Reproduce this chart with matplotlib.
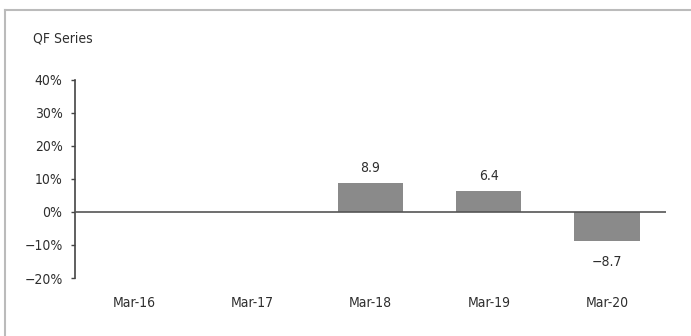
import matplotlib
matplotlib.use("Agg")
import matplotlib.pyplot as plt
from matplotlib.lines import Line2D
import numpy as np

# QF series, yearly change (%)
periods = ["Mar-16", "Mar-17", "Mar-18", "Mar-19", "Mar-20"]
values = [np.nan, np.nan, 8.9, 6.4, -8.7]
value_labels = ["", "", "8.9", "6.4", "\u22128.7"]
y_ticks = [-20, -10, 0, 10, 20, 30, 40]

plt.rcParams["font.family"] = ["DejaVu Sans"]
plt.rcParams["font.stretch"] = "condensed"
txt = "#2e2e2e"
fs = 10

fig = plt.figure(figsize=(6.91, 3.36), dpi=100)
ax = fig.add_axes([0.1085, 0.1726, 0.8555, 0.5894])

x = np.arange(len(periods))
heights = np.nan_to_num(values)
ax.bar(x, heights, width=0.55, color="#8a8a8a", zorder=2)
ax.axhline(0, color="#555555", lw=1.2, zorder=3)

for xi, v, lab in zip(x, values, value_labels):
    if np.isnan(v):
        continue
    if v >= 0:
        ax.text(xi, v + 2.3, lab, ha="center", va="bottom", fontsize=fs, color=txt)
    else:
        ax.text(xi, v - 4.3, lab, ha="center", va="top", fontsize=fs, color=txt)

ax.set_xlim(-0.5, len(periods) - 0.5)
ax.set_ylim(-20, 40)
ax.set_yticks(y_ticks)
ax.set_yticklabels([f"{t}%".replace("-", "\u2212") for t in y_ticks])
ax.set_xticks(x)
ax.set_xticklabels(periods)

for side in ["top", "right", "bottom"]:
    ax.spines[side].set_visible(False)
ax.spines["left"].set_color("#444444")
ax.spines["left"].set_linewidth(1.2)
ax.tick_params(axis="y", direction="out", length=3, width=1, color="#444444",
               labelsize=fs, labelcolor=txt, pad=6)
ax.tick_params(axis="x", length=0, labelsize=fs, labelcolor=txt, pad=13)

fig.text(0.048, 0.885, "QF Series", fontsize=fs, color=txt, ha="left", va="center")

# frame lines along the top and left edges
fig.add_artist(Line2D([0.007, 1.0], [0.97, 0.97], transform=fig.transFigure,
                      color="#bbbbbb", lw=1.5))
fig.add_artist(Line2D([0.007, 0.007], [0.0, 0.97], transform=fig.transFigure,
                      color="#bbbbbb", lw=1.5))

fig.savefig("out.png", dpi=100)
